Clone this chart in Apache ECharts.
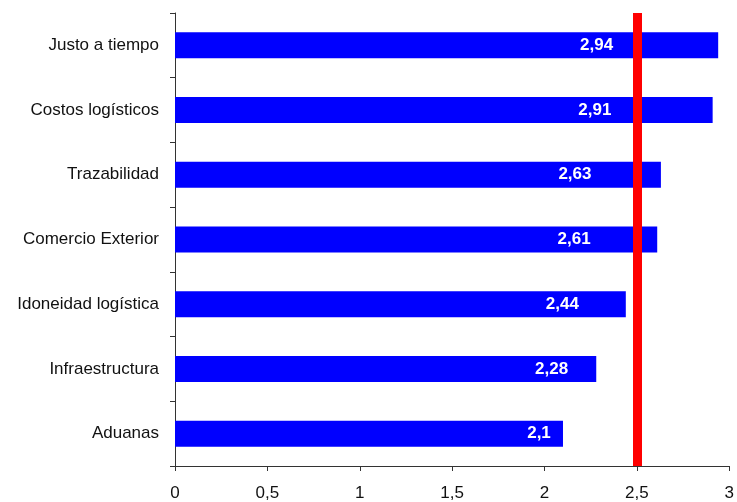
<!DOCTYPE html>
<html>
<head>
<meta charset="utf-8">
<script src="https://cdn.jsdelivr.net/npm/echarts@6/dist/echarts.min.js"></script>
<style>html,body{margin:0;padding:0;background:#fff}#c{width:737px;height:502px}</style>
</head>
<body>
<div id="c"></div>
<script>
var categories = ["Justo a tiempo", "Costos logísticos", "Trazabilidad", "Comercio Exterior", "Idoneidad logística", "Infraestructura", "Aduanas"];
var values = [2.94, 2.91, 2.63, 2.61, 2.44, 2.28, 2.1];
var referenceValue = 2.5;
var xTicks = ["0", "0,5", "1", "1,5", "2", "2,5", "3"];

var chart = echarts.init(document.getElementById('c'));
var font = '"Liberation Sans", Arial, sans-serif';
chart.setOption({
  animation: false,
  grid: {left: 175, right: 5, top: 13, bottom: 36, containLabel: false},
  xAxis: {
    type: 'value', min: 0, max: 3, interval: 0.5,
    axisLine: {show: true, lineStyle: {color: '#333', width: 1}},
    axisTick: {show: true, length: 5, lineStyle: {color: '#333'}},
    splitLine: {show: false},
    axisLabel: {
      color: '#111', fontSize: 17, fontFamily: font, margin: 19,
      formatter: function (v) { return xTicks[Math.round(v / 0.5)]; }
    }
  },
  yAxis: {
    type: 'category', data: categories, inverse: true,
    axisLine: {show: true, lineStyle: {color: '#333', width: 1}},
    axisTick: {show: true, length: 5, lineStyle: {color: '#333'}},
    axisLabel: {color: '#111', fontSize: 17, fontFamily: font, margin: 16}
  },
  series: [{
    type: 'bar',
    barWidth: 26,
    itemStyle: {color: '#0000FF'},
    data: values.map(function (v) {
      return {value: v, label: {offset: [Math.round(220 - 23.85 * v), 0]}};
    }),
    label: {
      show: true, position: 'inside', color: '#fff', fontWeight: 'bold',
      fontSize: 17, fontFamily: font,
      formatter: function (p) { return String(p.value).replace('.', ','); }
    },
    markLine: {
      silent: true, symbol: ['none', 'none'],
      label: {show: false},
      lineStyle: {color: '#FF0000', width: 9, type: 'solid'},
      data: [{xAxis: referenceValue}]
    }
  }]
});
</script>
</body>
</html>
